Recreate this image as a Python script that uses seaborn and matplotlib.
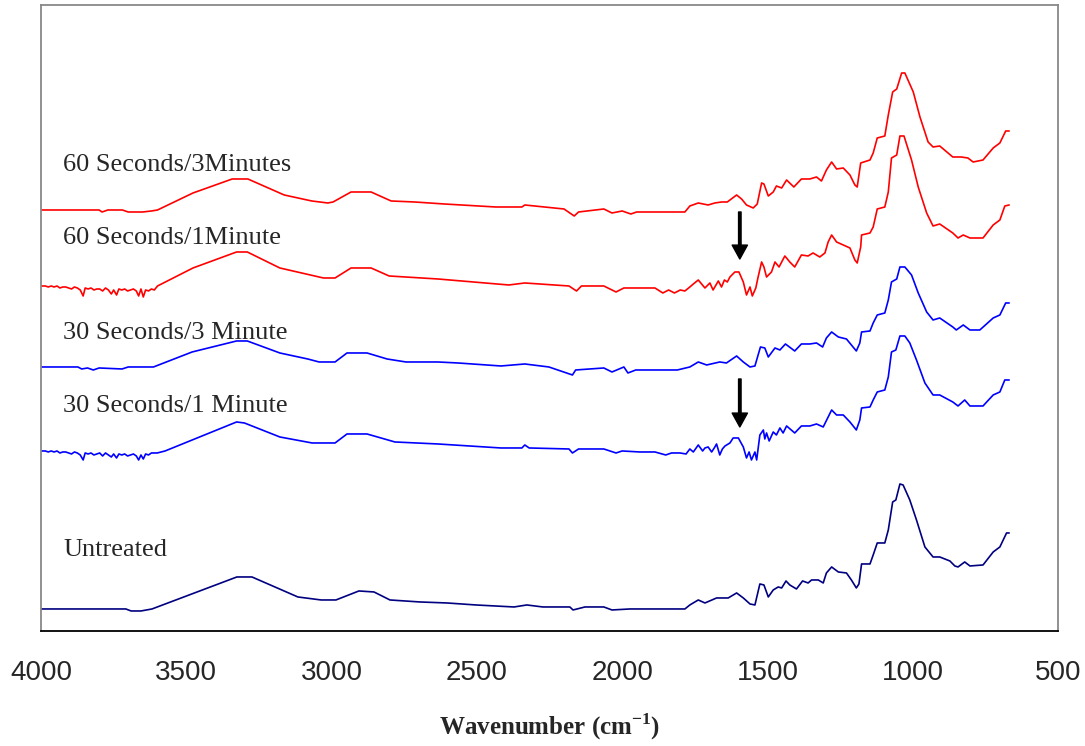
import pandas as pd
import matplotlib
matplotlib.use("Agg")
import matplotlib.pyplot as plt
import seaborn as sns

# FTIR spectra, stacked with offsets
untreated_wn = [4000, 3708, 3690, 3656, 3618, 3326, 3274, 3116, 3036, 2985, 2906, 2854, 2799, 2696, 2603,
                2503, 2372, 2328, 2273, 2180, 2169, 2128, 2063, 2035, 1973, 1939, 1784, 1767, 1738, 1715,
                1675, 1635, 1606, 1583, 1560, 1543, 1526, 1512, 1497, 1480, 1463, 1451, 1436, 1423, 1400,
                1379, 1360, 1348, 1325, 1308, 1297, 1279, 1256, 1228, 1211, 1194, 1185, 1176, 1147, 1136,
                1122, 1096, 1084, 1069, 1058, 1044, 1033, 1010, 987, 958, 930, 907, 872, 855, 844,
                821, 803, 758, 723, 700, 677, 668]
untreated_abs = [0.22, 0.22, 0.20, 0.20, 0.22, 0.54, 0.54, 0.34, 0.31, 0.31, 0.40, 0.39, 0.31, 0.29, 0.28,
                 0.26, 0.24, 0.26, 0.24, 0.24, 0.21, 0.24, 0.24, 0.21, 0.22, 0.22, 0.22, 0.26, 0.31, 0.28,
                 0.33, 0.33, 0.38, 0.33, 0.27, 0.26, 0.47, 0.46, 0.34, 0.41, 0.44, 0.43, 0.50, 0.46, 0.42,
                 0.50, 0.48, 0.51, 0.51, 0.48, 0.58, 0.64, 0.59, 0.58, 0.51, 0.43, 0.47, 0.67, 0.67, 0.76,
                 0.88, 0.88, 1.01, 1.29, 1.31, 1.47, 1.46, 1.31, 1.11, 0.84, 0.74, 0.74, 0.70, 0.65, 0.64,
                 0.69, 0.65, 0.66, 0.79, 0.84, 0.98, 0.98]

s30_1_wn = [4000, 3985, 3975, 3965, 3955, 3945, 3935, 3925, 3915, 3905, 3895, 3885, 3875, 3865, 3855,
            3848, 3838, 3828, 3818, 3808, 3798, 3788, 3778, 3768, 3758, 3750, 3740, 3732, 3722, 3712,
            3702, 3692, 3682, 3672, 3664, 3656, 3648, 3640, 3630, 3620, 3600, 3573, 3327, 3300, 3178,
            3067, 2988, 2947, 2878, 2782, 2634, 2417, 2345, 2335, 2320, 2183, 2171, 2150, 2063, 2021,
            2000, 1939, 1887, 1850, 1830, 1801, 1780, 1767, 1755, 1738, 1723, 1715, 1704, 1692, 1683,
            1675, 1664, 1655, 1646, 1629, 1618, 1600, 1583, 1572, 1563, 1555, 1543, 1537, 1526, 1514,
            1509, 1503, 1494, 1480, 1469, 1457, 1446, 1434, 1406, 1383, 1354, 1331, 1308, 1291, 1279,
            1262, 1239, 1216, 1194, 1182, 1176, 1147, 1136, 1122, 1096, 1084, 1073, 1058, 1044, 1027,
            1010, 987, 958, 930, 907, 862, 844, 821, 803, 758, 723, 700, 683, 668]
s30_1_abs = [1.80, 1.80, 1.79, 1.80, 1.79, 1.80, 1.78, 1.79, 1.79, 1.78, 1.77, 1.79, 1.78, 1.76, 1.71,
             1.78, 1.77, 1.78, 1.76, 1.77, 1.78, 1.75, 1.78, 1.76, 1.74, 1.77, 1.73, 1.77, 1.76, 1.77,
             1.75, 1.76, 1.77, 1.75, 1.71, 1.76, 1.72, 1.77, 1.76, 1.78, 1.78, 1.80, 2.09, 2.08, 1.94,
             1.88, 1.88, 1.97, 1.97, 1.89, 1.87, 1.83, 1.83, 1.86, 1.83, 1.82, 1.78, 1.82, 1.82, 1.78,
             1.80, 1.79, 1.79, 1.76, 1.78, 1.78, 1.77, 1.82, 1.79, 1.86, 1.80, 1.83, 1.84, 1.79, 1.83,
             1.87, 1.76, 1.82, 1.85, 1.88, 1.93, 1.93, 1.84, 1.73, 1.79, 1.71, 1.79, 1.71, 1.96, 2.01,
             1.92, 1.98, 1.90, 1.99, 1.96, 2.03, 1.98, 2.05, 1.98, 2.05, 2.05, 2.07, 2.04, 2.14, 2.21,
             2.16, 2.16, 2.09, 2.01, 2.11, 2.23, 2.24, 2.31, 2.39, 2.41, 2.54, 2.79, 2.81, 2.95, 2.95,
             2.88, 2.71, 2.48, 2.36, 2.36, 2.29, 2.25, 2.31, 2.25, 2.25, 2.36, 2.39, 2.51, 2.51]

s30_3_wn = [4000, 3873, 3860, 3840, 3820, 3800, 3721, 3700, 3613, 3480, 3327, 3290, 3178, 3082, 3043,
            2988, 2947, 2878, 2809, 2744, 2634, 2565, 2417, 2335, 2252, 2171, 2160, 2063, 2035, 1994,
            1980, 1953, 1939, 1810, 1767, 1738, 1709, 1664, 1641, 1606, 1583, 1560, 1543, 1524, 1509,
            1497, 1474, 1457, 1438, 1406, 1383, 1354, 1331, 1310, 1297, 1279, 1256, 1228, 1211, 1194,
            1182, 1176, 1147, 1136, 1122, 1096, 1084, 1073, 1055, 1044, 1027, 1004, 981, 952, 930,
            907, 862, 850, 826, 803, 769, 723, 700, 680, 668]
s30_3_abs = [2.64, 2.64, 2.62, 2.63, 2.61, 2.63, 2.62, 2.64, 2.64, 2.79, 2.90, 2.90, 2.78, 2.72, 2.69,
             2.69, 2.78, 2.78, 2.72, 2.69, 2.69, 2.68, 2.65, 2.67, 2.64, 2.56, 2.61, 2.63, 2.59, 2.64,
             2.58, 2.61, 2.61, 2.61, 2.64, 2.69, 2.66, 2.69, 2.68, 2.75, 2.69, 2.64, 2.65, 2.84, 2.83,
             2.74, 2.83, 2.81, 2.87, 2.80, 2.87, 2.87, 2.88, 2.84, 2.93, 2.99, 2.94, 2.92, 2.86, 2.80,
             2.88, 2.99, 3.00, 3.08, 3.16, 3.18, 3.31, 3.49, 3.52, 3.64, 3.64, 3.56, 3.38, 3.19, 3.11,
             3.13, 3.04, 3.01, 3.06, 3.01, 3.01, 3.13, 3.16, 3.28, 3.28]

s60_1_wn = [4000, 3985, 3975, 3965, 3955, 3945, 3935, 3925, 3915, 3905, 3895, 3885, 3875, 3865, 3855,
            3848, 3838, 3828, 3818, 3808, 3798, 3788, 3778, 3768, 3758, 3750, 3740, 3732, 3722, 3712,
            3702, 3692, 3682, 3672, 3664, 3656, 3648, 3640, 3630, 3620, 3610, 3599, 3477, 3327, 3290,
            3178, 3028, 2988, 2933, 2864, 2802, 2634, 2510, 2390, 2335, 2183, 2157, 2140, 2063, 2021,
            1994, 1887, 1860, 1840, 1820, 1800, 1784, 1767, 1755, 1738, 1715, 1698, 1687, 1669, 1658,
            1648, 1638, 1629, 1612, 1598, 1583, 1572, 1560, 1552, 1540, 1532, 1520, 1512, 1503, 1486,
            1474, 1460, 1440, 1423, 1406, 1383, 1360, 1343, 1320, 1302, 1291, 1279, 1262, 1239, 1216,
            1199, 1191, 1179, 1176, 1147, 1136, 1122, 1096, 1084, 1073, 1055, 1044, 1030, 1004, 981,
            952, 930, 907, 862, 844, 826, 803, 758, 723, 700, 683, 668]
s60_1_abs = [3.45, 3.45, 3.44, 3.45, 3.44, 3.45, 3.43, 3.44, 3.44, 3.43, 3.42, 3.44, 3.43, 3.41, 3.35,
             3.43, 3.42, 3.43, 3.41, 3.42, 3.42, 3.40, 3.43, 3.41, 3.37, 3.41, 3.36, 3.42, 3.41, 3.42,
             3.40, 3.41, 3.42, 3.40, 3.35, 3.42, 3.34, 3.41, 3.40, 3.42, 3.41, 3.45, 3.63, 3.79, 3.79,
             3.63, 3.53, 3.53, 3.63, 3.63, 3.55, 3.52, 3.49, 3.46, 3.48, 3.45, 3.40, 3.45, 3.45, 3.39,
             3.43, 3.43, 3.38, 3.41, 3.38, 3.41, 3.40, 3.44, 3.47, 3.51, 3.43, 3.48, 3.41, 3.50, 3.44,
             3.51, 3.49, 3.54, 3.59, 3.59, 3.49, 3.36, 3.44, 3.35, 3.43, 3.54, 3.69, 3.64, 3.54, 3.59,
             3.69, 3.64, 3.75, 3.69, 3.64, 3.76, 3.75, 3.78, 3.74, 3.78, 3.89, 3.96, 3.89, 3.86, 3.83,
             3.71, 3.68, 3.84, 3.96, 3.98, 4.04, 4.22, 4.24, 4.39, 4.73, 4.76, 4.95, 4.95, 4.71, 4.44,
             4.18, 4.05, 4.07, 3.98, 3.93, 3.96, 3.93, 3.93, 4.06, 4.11, 4.25, 4.26]

s60_3_wn = [4000, 3800, 3790, 3770, 3720, 3700, 3650, 3620, 3599, 3477, 3342, 3288, 3163, 3068, 3013,
            2995, 2933, 2864, 2795, 2714, 2612, 2435, 2345, 2335, 2200, 2165, 2150, 2063, 2035, 2000,
            1970, 1950, 1887, 1784, 1767, 1738, 1704, 1681, 1658, 1638, 1606, 1589, 1572, 1549, 1535,
            1520, 1512, 1497, 1480, 1469, 1451, 1434, 1409, 1383, 1354, 1331, 1314, 1297, 1279, 1262,
            1239, 1216, 1199, 1191, 1179, 1147, 1136, 1122, 1096, 1084, 1069, 1055, 1038, 1027, 998,
            975, 947, 930, 907, 862, 833, 810, 792, 758, 723, 700, 680, 668]
s60_3_abs = [4.21, 4.21, 4.19, 4.21, 4.21, 4.19, 4.19, 4.20, 4.21, 4.38, 4.52, 4.52, 4.36, 4.30, 4.28,
             4.29, 4.39, 4.39, 4.30, 4.29, 4.27, 4.24, 4.24, 4.26, 4.22, 4.15, 4.19, 4.22, 4.18, 4.20,
             4.17, 4.19, 4.19, 4.19, 4.25, 4.28, 4.26, 4.28, 4.29, 4.29, 4.36, 4.32, 4.26, 4.23, 4.27,
             4.48, 4.47, 4.35, 4.39, 4.45, 4.43, 4.51, 4.44, 4.52, 4.52, 4.54, 4.50, 4.61, 4.69, 4.62,
             4.63, 4.56, 4.46, 4.44, 4.68, 4.71, 4.78, 4.93, 4.95, 5.16, 5.39, 5.42, 5.58, 5.58, 5.39,
             5.14, 4.89, 4.84, 4.85, 4.74, 4.74, 4.73, 4.69, 4.71, 4.83, 4.88, 5.00, 5.00]

labels = ["Untreated", "30 Seconds/1 Minute", "30 Seconds/3 Minute",
          "60 Seconds/1Minute", "60 Seconds/3Minutes"]
label_y = [0.81, 2.25, 2.98, 3.93, 4.66]
colors = ["#000080", "#0000FF", "#0000FF", "#FF0000", "#FF0000"]
arrow_wn = 1595
arrow_from = [4.19, 2.52]
arrow_to = [3.72, 2.04]

series = [(untreated_wn, untreated_abs), (s30_1_wn, s30_1_abs), (s30_3_wn, s30_3_abs),
          (s60_1_wn, s60_1_abs), (s60_3_wn, s60_3_abs)]

frames = []
for name, (wn, ab) in zip(labels, series):
    frames.append(pd.DataFrame({"wavenumber": wn, "absorbance": ab, "sample": name}))
df = pd.concat(frames, ignore_index=True)

sns.set_style("white")
plt.rcParams["mathtext.fontset"] = "custom"
plt.rcParams["mathtext.rm"] = "Liberation Serif:bold"
plt.rcParams["mathtext.bf"] = "Liberation Serif:bold"

fig = plt.figure(figsize=(10.85, 7.46), dpi=100)
ax = fig.add_axes([0.0378, 0.1542, 0.9373, 0.8391])

sns.lineplot(data=df, x="wavenumber", y="absorbance", hue="sample",
             palette=dict(zip(labels, colors)), sort=False, estimator=None,
             legend=False, linewidth=1.2, ax=ax)

for txt, yy in zip(labels, label_y):
    ax.text(3924, yy, txt, fontsize=19, family="Liberation Serif", va="center", ha="left")

for y0, y1 in zip(arrow_from, arrow_to):
    ax.annotate("", xy=(arrow_wn, y1), xytext=(arrow_wn, y0),
                arrowprops=dict(width=1.8, headwidth=11, headlength=10, color="black", shrink=0))

ax.set_xlim(4000, 500)
ax.set_ylim(0, 6.26)
ax.set_xticks([4000, 3500, 3000, 2500, 2000, 1500, 1000, 500])
ax.set_yticks([])
ax.set_ylabel("")
ax.tick_params(axis="x", direction="out", length=7, width=1.2, color="black", pad=14,
               labelsize=20)
for lab in ax.get_xticklabels():
    lab.set_family("Liberation Sans")
ax.set_xlabel(r"Wavenumber (cm$^{\mathrm{-1}}$)", fontsize=18, fontweight="bold",
              family="Liberation Serif", labelpad=18)

for side in ["left", "top", "right"]:
    ax.spines[side].set_color("#888888")
    ax.spines[side].set_linewidth(1.3)
ax.spines["bottom"].set_color("black")
ax.spines["bottom"].set_linewidth(1.3)

fig.savefig("out.png", dpi=100)
